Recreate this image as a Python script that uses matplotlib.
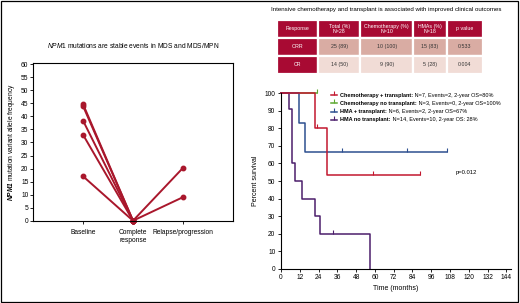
import matplotlib
matplotlib.use("Agg")
import matplotlib.pyplot as plt
from matplotlib.patches import Rectangle

plt.rcParams['font.family'] = ['Liberation Sans', 'DejaVu Sans']
plt.rcParams['mathtext.fontset'] = 'custom'
plt.rcParams['mathtext.rm'] = 'Liberation Sans'
plt.rcParams['mathtext.it'] = 'Liberation Sans:italic'
plt.rcParams['mathtext.bf'] = 'Liberation Sans:italic:bold'

# left panel: NPM1 VAF per timepoint
timepoints = ['Baseline', 'Complete\nresponse', 'Relapse/progression']
baseline_vaf = [44.6, 43.9, 38.3, 32.9, 17.0]
cr_vaf = 0
relapse_vaf = [20.2, 9.0]

# table
col_labels = ['Response', 'Total (%)\nN=28', 'Chemotherapy (%)\nN=10', 'HMAs (%)\nN=18', 'p value']
row_orr = ['ORR', '25 (89)', '10 (100)', '15 (83)', '0.533']
row_cr = ['CR', '14 (50)', '9 (90)', '5 (28)', '0.004']

# Kaplan-Meier curves (step times, survival %, censor times)
km_names = ['Chemotherapy + transplant:', 'Chemotherapy no transplant:',
            'HMA + transplant:', 'HMA no transplant:']
km_info = [' N=7, Events=2, 2-year OS=80%', ' N=3, Events=0, 2-year OS=100%',
           ' N=6, Events=2, 2-year OS=67%', ' N=14, Events=10, 2-year OS: 28%']
km_colors = ['#c2182f', '#5da832', '#2d4f90', '#4b1e6b']

chemo_tx_t = [0, 21.7, 29.1, 88.6]
chemo_tx_s = [100, 80, 53.3, 53.3]
chemo_tx_c = [23, 59, 88.6]

chemo_notx_t = [0, 23]
chemo_notx_s = [100, 100]
chemo_notx_c = [23]

hma_tx_t = [0, 11.7, 15.5, 106]
hma_tx_s = [100, 83.3, 66.7, 66.7]
hma_tx_c = [39.3, 80.6, 106]

hma_notx_t = [0, 4.9, 6.8, 8.9, 13.2, 21.7, 24.9, 57.2]
hma_notx_s = [100, 91, 60, 50, 40, 30, 20, 0]
hma_notx_c = [33.4]

W, H = 520, 303
fig = plt.figure(figsize=(W / 100, H / 100), dpi=100)
fig.add_artist(Rectangle((0.002, 0.003), 0.994, 0.993, transform=fig.transFigure,
                         fill=False, lw=0.9, ec='black'))

# ---- left panel ----
red = '#a9172c'
ax = fig.add_axes([33.3 / W, 1 - 220.7 / H, (232.7 - 33.3) / W, (220.7 - 63.5) / H])
for v in baseline_vaf:
    ax.plot([0, 1], [v, cr_vaf], color=red, lw=1.4, marker='o', ms=3.2, clip_on=False)
for v in relapse_vaf:
    ax.plot([1, 2], [cr_vaf, v], color=red, lw=1.4, marker='o', ms=3.2, clip_on=False)
ax.set_xlim(-1, 3)
ax.set_ylim(0, 60.3)
ax.set_yticks(range(0, 61, 5))
ax.set_xticks(range(len(timepoints)))
ax.set_xticklabels(timepoints)
ax.tick_params(axis='y', labelsize=4.8, length=2, width=0.6, pad=1.5)
ax.tick_params(axis='x', labelsize=4.8, length=2, width=0.6, pad=4)
for s in ax.spines.values():
    s.set_linewidth(0.8)
ax.set_ylabel(r'$\mathbf{NPM1}$ mutation variant allele frequency', fontsize=4.8, labelpad=3)
fig.text(133 / W, 1 - 45.5 / H, r'$\mathit{NPM1}$ mutations are stable events in MDS and MDS/MPN',
         fontsize=4.8, ha='center', va='center')

# ---- right panel title and table ----
fig.text(386 / W, 1 - 10 / H,
         'Intensive chemotherapy and transplant is associated with improved clinical outcomes',
         fontsize=4.4, ha='center', va='center')

dark = '#a80a33'
tax = fig.add_axes([277 / W, 1 - 73.5 / H, 206 / W, 53.5 / H])
tax.axis('off')
cell_text = [row_orr, row_cr]
cell_colours = [[dark, '#d9aca3', '#d9aca3', '#d9aca3', '#d9aca3'],
                [dark, '#f1dcd6', '#f1dcd6', '#f1dcd6', '#f1dcd6']]
tbl = tax.table(cellText=cell_text, colLabels=col_labels, cellColours=cell_colours,
                colColours=[dark] * 5, colWidths=[41, 41, 53, 33, 36],
                cellLoc='center', bbox=[0, 0, 1, 1])
tbl.auto_set_font_size(False)
for (r, c), cell in tbl.get_celld().items():
    cell.set_edgecolor('white')
    cell.set_linewidth(1.6)
    cell.get_text().set_fontsize(3.8)
    if r == 0 or c == 0:
        cell.get_text().set_color('white')
    else:
        cell.get_text().set_color('#333333')

# ---- Kaplan-Meier panel ----
kax = fig.add_axes([281 / W, 1 - 268.7 / H, 230 / W, 175.4 / H])
curves = [(chemo_notx_t, chemo_notx_s, chemo_notx_c, 1),
          (hma_tx_t, hma_tx_s, hma_tx_c, 2),
          (hma_notx_t, hma_notx_s, hma_notx_c, 3),
          (chemo_tx_t, chemo_tx_s, chemo_tx_c, 0)]
for t, s, c, i in curves:
    kax.step(t, s, where='post', color=km_colors[i], lw=1.1, clip_on=False)
    cs = [s[max(j for j in range(len(t)) if t[j] <= ct)] for ct in c]
    kax.plot(c, cs, ls='none', marker=2, ms=3, mew=0.8, color=km_colors[i], clip_on=False)
kax.set_xlim(0, 147)
kax.set_ylim(0, 100)
kax.set_xticks(range(0, 145, 12))
kax.set_yticks(range(0, 101, 10))
kax.spines['top'].set_visible(False)
kax.spines['right'].set_visible(False)
for s in kax.spines.values():
    s.set_linewidth(0.8)
kax.tick_params(labelsize=4.8, length=2, width=0.6, pad=2)
kax.set_xlabel('Time (months)', fontsize=5, labelpad=3)
kax.set_ylabel('Percent survival', fontsize=5, labelpad=4)
kax.text(0.761, 0.55, 'p=0.012', transform=kax.transAxes, fontsize=4.2, va='center')

# legend drawn by hand: bold group name followed by plain details
for i in range(4):
    y = 0.990 - i * 0.047
    kax.plot([0.217, 0.243], [y, y], transform=kax.transAxes, color=km_colors[i],
             lw=1.1, clip_on=False)
    kax.plot([0.230], [y], transform=kax.transAxes, marker=2, ms=3, mew=0.8,
             color=km_colors[i], clip_on=False)
    b = kax.text(0.257, y, km_names[i], transform=kax.transAxes, fontsize=4.0,
                 fontweight='bold', va='center')
    kax.annotate(km_info[i], xy=(1, 0.5), xycoords=b, fontsize=4.0, va='center')

fig.savefig('out.png', dpi=100)
